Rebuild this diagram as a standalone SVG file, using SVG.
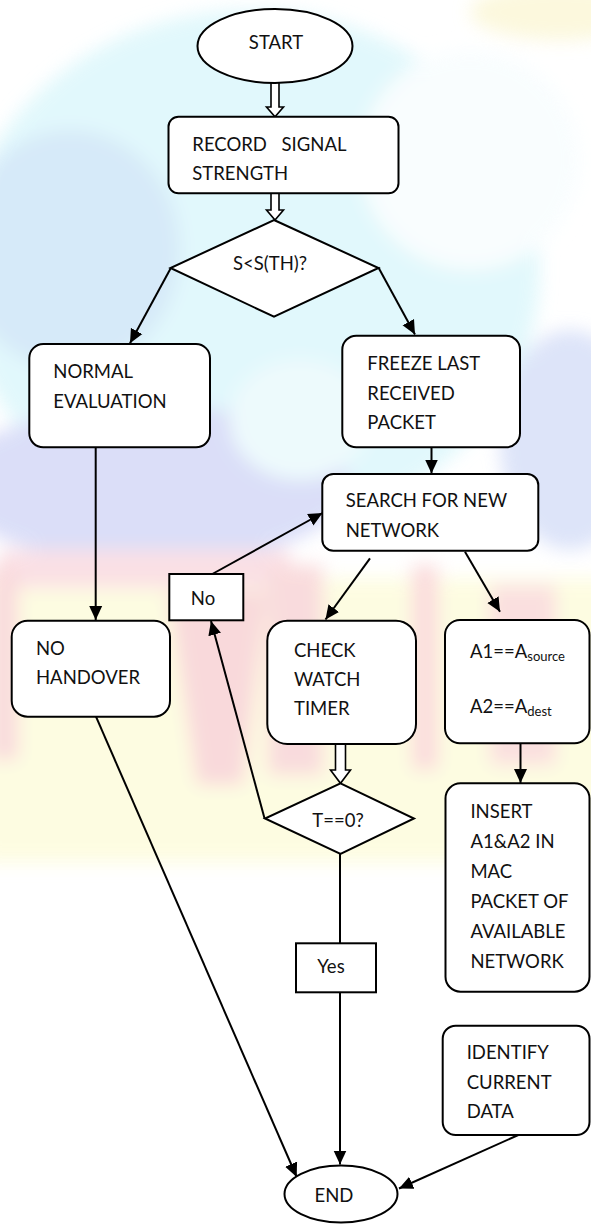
<svg xmlns="http://www.w3.org/2000/svg" width="591" height="1224" viewBox="0 0 591 1224">
<style>
.box{fill:#fff;stroke:#000;stroke-width:2}
.t{font-family:Lato,"Open Sans","Liberation Sans",sans-serif;font-size:18.5px;fill:#111}
.c{stroke:#000;stroke-width:2;fill:none}
.a{marker-end:url(#ah)}
.h{fill:#fff;stroke:#000;stroke-width:1.6}
</style>
<defs>
<marker id="ah" markerUnits="userSpaceOnUse" markerWidth="15" markerHeight="14" refX="14" refY="7" orient="auto">
<path d="M0,0.5 L14,7 L0,13.5 z" fill="#000"/>
</marker>
<filter id="bl" x="-30%" y="-30%" width="160%" height="160%"><feGaussianBlur stdDeviation="9"/></filter>
</defs>
<rect width="591" height="1224" fill="#fff"/>
<g id="watermark" filter="url(#bl)" opacity="0.75">
<ellipse cx="250" cy="270" rx="290" ry="260" fill="#d8f6fb"/>
<ellipse cx="560" cy="12" rx="90" ry="28" fill="#fbf6d2"/>
<ellipse cx="70" cy="250" rx="110" ry="120" fill="#c9e3f7"/>
<ellipse cx="470" cy="160" rx="110" ry="110" fill="#f7fdfe"/>
<ellipse cx="150" cy="485" rx="200" ry="80" fill="#cfd4f6"/>
<ellipse cx="570" cy="440" rx="70" ry="110" fill="#d2dbf7"/>
<ellipse cx="300" cy="420" rx="70" ry="60" fill="#e8f9fc"/>
<rect x="-20" y="578" width="640" height="285" fill="#fdfcd8"/>
<rect x="0" y="550" width="290" height="38" fill="#f9d6dd"/>
<rect x="-10" y="565" width="28" height="195" fill="#f8cfd2"/>
<polygon points="168,592 268,592 243,785 197,785" fill="#f8cdd0"/>
<rect x="268" y="565" width="55" height="210" fill="#f8d0d2"/>
<rect x="412" y="565" width="26" height="205" fill="#f9d0d2"/>
<rect x="490" y="585" width="66" height="180" fill="#f9d5d5"/>
</g>
<g id="connectors">
<polygon id="h1" class="h" points="271,80 279,80 279,107 283.5,107 275,116.7 266.5,107 271,107"/>
<polygon id="h2" class="h" points="271,193.3 279,193.3 279,210 283.5,210 275,220 266.5,210 271,210"/>
<polygon id="h3" class="h" points="335.5,744 345.5,744 345.5,770 350.5,770 340.5,783.3 330.5,770 335.5,770"/>
<line class="c a" x1="170.7" y1="268.3" x2="130" y2="343.3"/>
<line class="c a" x1="378.3" y1="267.3" x2="415" y2="334.5"/>
<line class="c a" x1="431.5" y1="447.3" x2="431.5" y2="473.5"/>
<line class="c a" x1="95.7" y1="447.3" x2="95.7" y2="620"/>
<line class="c a" x1="370" y1="558.3" x2="325.5" y2="619.5"/>
<line class="c a" x1="465" y1="551.7" x2="500" y2="611.7"/>
<line class="c a" x1="212.3" y1="574" x2="322.5" y2="513"/>
<line class="c a" x1="264.5" y1="818.3" x2="211" y2="621"/>
<line class="c" x1="340" y1="854" x2="340" y2="943.3"/>
<line class="c a" x1="340" y1="992.3" x2="340" y2="1164.5"/>
<line class="c a" x1="96" y1="716.7" x2="296.7" y2="1177"/>
<line class="c a" x1="520.5" y1="743.3" x2="520.5" y2="783"/>
<line class="c a" x1="518.3" y1="1135" x2="399" y2="1188.5"/>
</g>
<g id="start">
<ellipse class="box" cx="275" cy="46" rx="77.5" ry="37"/>
<text class="t" x="276" y="48.5" text-anchor="middle">START</text>
</g>
<g id="record">
<rect class="box" x="168.5" y="116.7" width="230" height="76.6" rx="10"/>
<text class="t" x="192.3" y="150.7" word-spacing="10">RECORD SIGNAL</text>
<text class="t" x="192.3" y="180">STRENGTH</text>
</g>
<g id="decision1">
<polygon class="box" points="274,220 378.5,268 274,316.7 170.5,268"/>
<text class="t" x="270" y="269.5" text-anchor="middle">S&lt;S(TH)?</text>
</g>
<g id="normal">
<rect class="box" x="29.3" y="344" width="180.7" height="103.3" rx="14"/>
<text class="t" x="53.3" y="378.3">NORMAL</text>
<text class="t" x="53.3" y="408.3">EVALUATION</text>
</g>
<g id="freeze">
<rect class="box" x="342.3" y="335.7" width="177.7" height="111.6" rx="14"/>
<text class="t" x="367.3" y="370">FREEZE LAST</text>
<text class="t" x="367.3" y="400">RECEIVED</text>
<text class="t" x="367.3" y="429.3">PACKET</text>
</g>
<g id="search">
<rect class="box" x="322.3" y="474" width="216" height="76.7" rx="11"/>
<text class="t" x="345.7" y="506.7">SEARCH FOR NEW</text>
<text class="t" x="345.7" y="536.7">NETWORK</text>
</g>
<g id="no">
<rect class="box" x="169.3" y="574" width="74" height="46.3"/>
<text class="t" x="203" y="605" text-anchor="middle">No</text>
</g>
<g id="nohandover">
<rect class="box" x="11.7" y="620.7" width="158.3" height="96" rx="16"/>
<text class="t" x="36" y="655">NO</text>
<text class="t" x="36" y="684">HANDOVER</text>
</g>
<g id="check">
<rect class="box" x="267.3" y="620.7" width="148.7" height="123.3" rx="20"/>
<text class="t" x="294" y="656.7">CHECK</text>
<text class="t" x="294" y="686">WATCH</text>
<text class="t" x="294" y="715">TIMER</text>
</g>
<g id="address">
<rect class="box" x="445" y="620" width="144.5" height="123.3" rx="15"/>
<text class="t" x="470" y="658.3">A1==A<tspan font-size="13" dy="3">source</tspan></text>
<text class="t" x="470" y="713.3">A2==A<tspan font-size="13" dy="3">dest</tspan></text>
</g>
<g id="decision2">
<polygon class="box" points="340.5,783.3 414,818.5 340.5,854 265,818.5"/>
<text class="t" x="338" y="826.7" text-anchor="middle">T==0?</text>
</g>
<g id="insert">
<rect class="box" x="445.5" y="783.3" width="144" height="208.4" rx="15"/>
<text class="t" x="470.4" y="818.3">INSERT</text>
<text class="t" x="470.4" y="848.3">A1&amp;A2 IN</text>
<text class="t" x="470.4" y="878.3">MAC</text>
<text class="t" x="470.4" y="908.3">PACKET OF</text>
<text class="t" x="470.4" y="938.3">AVAILABLE</text>
<text class="t" x="470.4" y="968.3">NETWORK</text>
</g>
<g id="yes">
<rect class="box" x="296" y="943.3" width="80" height="49"/>
<text class="t" x="331" y="973.3" text-anchor="middle">Yes</text>
</g>
<g id="identify">
<rect class="box" x="442.7" y="1025.7" width="146.8" height="109.3" rx="13"/>
<text class="t" x="466.7" y="1059.3">IDENTIFY</text>
<text class="t" x="466.7" y="1089.3">CURRENT</text>
<text class="t" x="466.7" y="1118.3">DATA</text>
</g>
<g id="end">
<ellipse class="box" cx="341" cy="1194" rx="56.5" ry="28.5"/>
<text class="t" x="334" y="1201.7" text-anchor="middle">END</text>
</g>
</svg>
